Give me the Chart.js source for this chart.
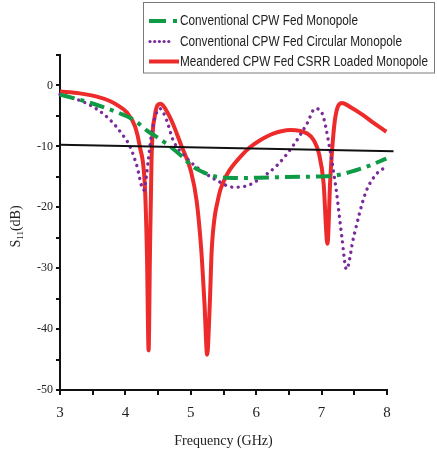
<!DOCTYPE html>
<html>
<head>
<meta charset="utf-8">
<script src="https://cdn.jsdelivr.net/npm/chart.js@4.4.0/dist/chart.umd.min.js"></script>
<style>
  html, body { margin: 0; padding: 0; background: #fff; }
  canvas { display: block; }
</style>
</head>
<body>
<canvas id="chartS11" width="437" height="452"></canvas>
<script>
// values (frequency in GHz, S11 in dB)
var seriesNames = ["Conventional CPW Fed Monopole", "Conventional CPW Fed Circular Monopole", "Meandered CPW Fed CSRR Loaded Monopole"];

var freqGreen = [3.0, 3.25, 3.51, 3.92, 4.15, 4.33, 4.5, 4.68, 4.85, 5.04, 5.2, 5.4, 5.76, 6.2, 6.67, 7.08, 7.25, 7.44, 7.7, 7.99];
var s11Green  = [-1.5, -2.2, -3.0, -4.6, -5.8, -7.4, -8.6, -10.0, -11.5, -13.4, -14.3, -15.0, -15.2, -15.1, -15.0, -14.9, -14.7, -14.2, -13.3, -12.0];

var freqPurple = [3.0, 3.31, 3.55, 3.77, 3.95, 4.07, 4.17, 4.28, 4.35, 4.4, 4.48, 4.53, 4.63, 4.73, 4.9, 5.09, 5.4, 5.65, 5.85, 6.06, 6.32, 6.57, 6.78, 6.9, 7.0, 7.13, 7.23, 7.31, 7.38, 7.49, 7.67, 7.85, 7.99];
var s11Purple  = [-1.5, -2.5, -3.8, -5.7, -8.0, -10.0, -13.0, -17.2, -12.3, -7.9, -4.4, -3.8, -5.7, -9.0, -11.5, -13.4, -15.6, -16.7, -16.5, -15.3, -13.1, -9.8, -6.2, -3.8, -4.4, -10.7, -17.7, -24.9, -30.2, -24.9, -17.7, -14.4, -13.4];

var freqRed = [3.0, 3.3, 3.55, 3.77, 3.9, 4.02, 4.15, 4.22, 4.3, 4.33, 4.355, 4.375, 4.4, 4.45, 4.53, 4.68, 4.86, 5.0, 5.09, 5.16, 5.21, 5.25, 5.29, 5.32, 5.42, 5.5, 5.6, 5.75, 5.9, 6.06, 6.26, 6.52, 6.78, 6.88, 6.96, 7.03, 7.09, 7.13, 7.16, 7.21, 7.31, 7.45, 7.64, 7.8, 7.99];
var s11Red  = [-1.0, -1.3, -1.8, -2.6, -3.4, -4.4, -6.8, -10.0, -17.0, -28.0, -43.5, -28.0, -12.0, -5.0, -3.0, -5.2, -10.0, -14.0, -19.0, -27.0, -36.0, -44.2, -36.0, -27.0, -18.5, -15.8, -13.8, -11.8, -10.2, -9.0, -7.9, -7.3, -7.9, -9.0, -11.2, -16.0, -26.0, -16.0, -10.7, -5.2, -2.9, -3.6, -4.9, -6.2, -7.6];

var freqRef = [3.0, 8.1];
var s11Ref  = [-9.75, -10.8];

var xTicks = [3, 4, 5, 6, 7, 8];
var yTicks = [0, -10, -20, -30, -40, -50];

function points(xs, ys) {
  return xs.map(function (x, i) { return { x: x, y: ys[i] }; });
}

var serif = "'Liberation Serif', 'Times New Roman', serif";
var sans = "'Liberation Sans', Arial, sans-serif";

var colGreen = '#0f9a45';
var colPurple = '#7a2a99';
var colRed = '#ee2b2b';

// y title with subscript, x title and the boxed legend
var decorPlugin = {
  id: 'decor',
  afterDraw: function (chart) {
    var ctx = chart.ctx;
    var area = chart.chartArea;
    ctx.save();
    ctx.fillStyle = '#222';

    // x title
    ctx.font = '14px ' + serif;
    ctx.textAlign = 'center';
    ctx.textBaseline = 'middle';
    ctx.fillText('Frequency (GHz)', (area.left + area.right) / 2, 441);

    // y title: S11(dB), rotated
    ctx.save();
    ctx.translate(15, (area.top + area.bottom) / 2 + 4);
    ctx.rotate(-Math.PI / 2);
    ctx.textAlign = 'left';
    ctx.textBaseline = 'alphabetic';
    ctx.font = '14px ' + serif;
    var w1 = ctx.measureText('S').width;
    ctx.font = '9px ' + serif;
    var w2 = ctx.measureText('11').width;
    ctx.font = '14px ' + serif;
    var w3 = ctx.measureText('(dB)').width;
    var start = -(w1 + w2 + w3) / 2;
    ctx.fillText('S', start, 5);
    ctx.font = '9px ' + serif;
    ctx.fillText('11', start + w1, 8);
    ctx.font = '14px ' + serif;
    ctx.fillText('(dB)', start + w1 + w2, 5);
    ctx.restore();

    // legend box
    ctx.fillStyle = '#fff';
    ctx.fillRect(143.5, 2.5, 291, 70.5);
    ctx.strokeStyle = '#7a7a7a';
    ctx.lineWidth = 1;
    ctx.strokeRect(143.5, 2.5, 291, 70.5);

    var rows = [21, 41.5, 61.5];
    // green dash-dot
    ctx.strokeStyle = colGreen;
    ctx.lineWidth = 4;
    ctx.lineCap = 'butt';
    ctx.beginPath();
    ctx.moveTo(149, rows[0]); ctx.lineTo(166, rows[0]);
    ctx.moveTo(173, rows[0]); ctx.lineTo(177, rows[0]);
    ctx.stroke();
    // purple dots
    ctx.fillStyle = colPurple;
    for (var d = 150; d <= 173; d += 4.7) {
      ctx.beginPath();
      ctx.arc(d, rows[1], 1.6, 0, Math.PI * 2);
      ctx.fill();
    }
    // red line
    ctx.strokeStyle = colRed;
    ctx.beginPath();
    ctx.moveTo(149, rows[2]); ctx.lineTo(179, rows[2]);
    ctx.stroke();

    ctx.fillStyle = '#222';
    ctx.font = '14px ' + sans;
    ctx.textAlign = 'left';
    ctx.textBaseline = 'middle';
    var maxW = [178, 222, 248];
    seriesNames.forEach(function (name, i) {
      ctx.fillText(name, 180, rows[i] + 0.5, maxW[i]);
    });
    ctx.restore();
  }
};

var ctx = document.getElementById('chartS11').getContext('2d');
var chartS11 = new Chart(ctx, {
  type: 'line',
  data: {
    datasets: [{
      label: 'ref',
      data: points(freqRef, s11Ref),
      borderColor: '#111',
      borderWidth: 2,
      pointRadius: 0,
      clip: false
    }, {
      label: seriesNames[0],
      data: points(freqGreen, s11Green),
      borderColor: colGreen,
      borderWidth: 4,
      borderDash: [15, 6, 4, 6],
      pointRadius: 0,
      cubicInterpolationMode: 'monotone',
      clip: false
    }, {
      label: seriesNames[1],
      data: points(freqPurple, s11Purple),
      borderColor: colPurple,
      borderWidth: 3.4,
      borderDash: [0.01, 6.5],
      borderCapStyle: 'round',
      pointRadius: 0,
      cubicInterpolationMode: 'monotone',
      clip: false
    }, {
      label: seriesNames[2],
      data: points(freqRed, s11Red),
      borderColor: colRed,
      borderWidth: 4,
      pointRadius: 0,
      cubicInterpolationMode: 'monotone',
      clip: false
    }]
  },
  options: {
    responsive: false,
    animation: false,
    devicePixelRatio: 1,
    layout: { padding: { left: 0, right: 50, top: 55, bottom: 0 } },
    plugins: { legend: { display: false }, tooltip: { enabled: false } },
    scales: {
      x: {
        type: 'linear',
        min: 3,
        max: 8,
        afterFit: function (scale) { scale.height = 62; },
        ticks: {
          stepSize: 0.5,
          autoSkip: false,
          maxRotation: 0,
          padding: 9,
          color: '#222',
          font: { family: serif, size: 15 },
          callback: function (v) { return xTicks.indexOf(v) >= 0 ? String(v) : ''; }
        },
        grid: { drawOnChartArea: false, drawTicks: true, tickLength: 5, color: '#111', lineWidth: 2 },
        border: { color: '#111', width: 2 }
      },
      y: {
        min: -50,
        max: 5,
        afterFit: function (scale) { scale.width = 60; },
        ticks: {
          stepSize: 5,
          autoSkip: false,
          padding: 3,
          color: '#222',
          font: { family: serif, size: 12 },
          callback: function (v) { return yTicks.indexOf(v) >= 0 ? String(v) : ''; }
        },
        grid: { drawOnChartArea: false, drawTicks: true, tickLength: 4, color: '#111', lineWidth: 2 },
        border: { color: '#111', width: 2 }
      }
    }
  },
  plugins: [decorPlugin]
});
</script>
</body>
</html>
